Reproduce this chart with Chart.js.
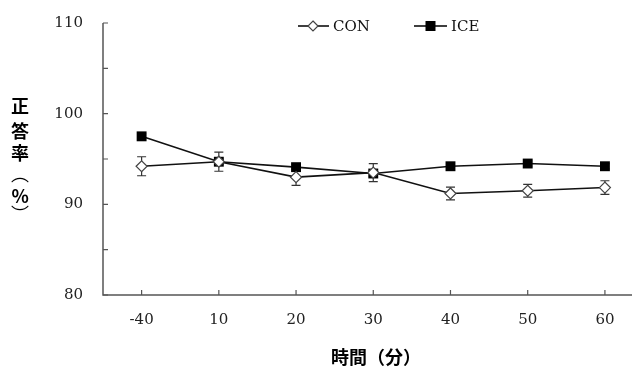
<!DOCTYPE html>
<html>
<head>
<meta charset="utf-8">
<script src="https://cdn.jsdelivr.net/npm/chart.js@4.4.1/dist/chart.umd.min.js"></script>
<style>
html,body{margin:0;padding:0;background:#fff;overflow:hidden;}
#wrap{width:632px;height:369px;position:relative;}
</style>
</head>
<body>
<div id="wrap"><canvas id="c" width="632" height="369"></canvas></div>
<script>
const categories = ['-40', '10', '20', '30', '40', '50', '60'];
const conValues = [94.2, 94.7, 93.0, 93.5, 91.2, 91.5, 91.85];
const conErr    = [1.05, 1.05, 0.9, 1.0, 0.7, 0.7, 0.75];
const iceValues = [97.5, 94.7, 94.1, 93.4, 94.2, 94.5, 94.2];
const iceErr    = [0.3, 0.3, 0.3, 0.3, 0.3, 0.3, 0.3];
const yTickLabels = [80, 90, 100, 110];
const yMinorTicks = [80, 85, 90, 95, 100, 105, 110];
const legendLabels = ['CON', 'ICE'];
const yTitleChars = ['正', '答', '率', '︵', '%', '︶'];
const xTitle = '時間（分）';

const serif = '"DejaVu Serif", "Liberation Serif", serif';
const cjk = '"Noto Sans CJK JP", "Noto Sans CJK SC", sans-serif';

const decor = {
  id: 'decor',
  beforeDatasetsDraw(chart) {
    const ctx = chart.ctx, x = chart.scales.x, y = chart.scales.y;
    ctx.save();
    ctx.strokeStyle = '#333';
    ctx.lineWidth = 1.2;
    const sets = [[conValues, conErr], [iceValues, iceErr]];
    sets.forEach(([vals, errs]) => {
      vals.forEach((v, i) => {
        const px = x.getPixelForValue(i);
        const t = y.getPixelForValue(v + errs[i]);
        const b = y.getPixelForValue(v - errs[i]);
        ctx.beginPath();
        ctx.moveTo(px, t); ctx.lineTo(px, b);
        ctx.moveTo(px - 4.5, t); ctx.lineTo(px + 4.5, t);
        ctx.moveTo(px - 4.5, b); ctx.lineTo(px + 4.5, b);
        ctx.stroke();
      });
    });
    ctx.restore();
  },
  afterDraw(chart) {
    const ctx = chart.ctx, x = chart.scales.x, y = chart.scales.y;
    const area = chart.chartArea;
    ctx.save();
    ctx.strokeStyle = '#555';
    ctx.lineWidth = 1.5;
    ctx.beginPath();
    ctx.moveTo(area.left, area.top);
    ctx.lineTo(area.left, area.bottom);
    ctx.lineTo(chart.width, area.bottom);
    ctx.stroke();
    ctx.lineWidth = 1.2;
    ctx.beginPath();
    yMinorTicks.forEach(v => {
      const py = y.getPixelForValue(v);
      ctx.moveTo(area.left, py); ctx.lineTo(area.left + 5, py);
    });
    categories.forEach((c, i) => {
      const px = x.getPixelForValue(i);
      ctx.moveTo(px, area.bottom); ctx.lineTo(px, area.bottom - 5);
    });
    ctx.stroke();
    const ly = 26;
    ctx.strokeStyle = '#000';
    ctx.lineWidth = 1.5;
    ctx.beginPath();
    ctx.moveTo(298, ly); ctx.lineTo(329, ly);
    ctx.moveTo(414, ly); ctx.lineTo(447, ly);
    ctx.stroke();
    ctx.fillStyle = '#fff';
    ctx.strokeStyle = '#444';
    ctx.lineWidth = 1.2;
    ctx.beginPath();
    ctx.moveTo(313, ly - 5); ctx.lineTo(318, ly); ctx.lineTo(313, ly + 5); ctx.lineTo(308, ly); ctx.closePath();
    ctx.fill(); ctx.stroke();
    ctx.fillStyle = '#000';
    ctx.fillRect(425.5, ly - 5, 10, 10);
    ctx.fillStyle = '#111';
    ctx.font = '15px ' + serif;
    ctx.textBaseline = 'middle';
    ctx.textAlign = 'left';
    ctx.fillText(legendLabels[0], 333, ly + 1);
    ctx.fillText(legendLabels[1], 451, ly + 1);
    // y title: each glyph's ink centred on its slot
    ctx.fillStyle = '#000';
    ctx.textAlign = 'left';
    ctx.textBaseline = 'alphabetic';
    const ys = [106, 130, 153, 179.5, 196, 208];
    yTitleChars.forEach((ch, i) => {
      ctx.font = (ch === '︵' || ch === '︶') ? '18px ' + cjk : 'bold 18px ' + cjk;
      const m = ctx.measureText(ch);
      const cx = (m.actualBoundingBoxRight - m.actualBoundingBoxLeft) / 2;
      const cy = (m.actualBoundingBoxDescent - m.actualBoundingBoxAscent) / 2;
      ctx.fillText(ch, 20 - cx, ys[i] - cy);
    });
    ctx.textAlign = 'center';
    ctx.textBaseline = 'middle';
    ctx.font = 'bold 18px ' + cjk;
    ctx.fillText(xTitle, 376, 357);
    ctx.restore();
  }
};

new Chart(document.getElementById('c'), {
  type: 'line',
  data: {
    datasets: [
      {
        label: legendLabels[0],
        data: conValues.map((v, i) => ({x: i, y: v})),
        borderColor: '#111',
        borderWidth: 1.6,
        pointStyle: 'rectRot',
        pointRadius: 5.5,
        pointBackgroundColor: '#fff',
        pointBorderColor: '#444',
        pointBorderWidth: 1.2,
        tension: 0
      },
      {
        label: legendLabels[1],
        data: iceValues.map((v, i) => ({x: i, y: v})),
        borderColor: '#111',
        borderWidth: 1.6,
        pointStyle: 'rect',
        pointRadius: 7,
        pointBackgroundColor: '#000',
        pointBorderColor: '#000',
        pointBorderWidth: 0,
        tension: 0
      }
    ]
  },
  options: {
    responsive: false,
    animation: false,
    events: [],
    layout: {padding: {top: 23, right: 0, left: 0, bottom: 0}},
    plugins: {legend: {display: false}, tooltip: {enabled: false}},
    scales: {
      x: {
        type: 'linear',
        min: -0.5,
        max: 6.26,
        afterBuildTicks: s => { s.ticks = categories.map((c, i) => ({value: i})); },
        afterFit: s => { s.height = 74; s.paddingLeft = 0; s.paddingRight = 0; },
        grid: {display: false, drawTicks: false},
        border: {display: false},
        ticks: {
          padding: 16,
          color: '#222',
          font: {family: serif, size: 15},
          callback: v => categories[v]
        }
      },
      y: {
        min: 80,
        max: 110,
        afterBuildTicks: s => { s.ticks = yTickLabels.map(v => ({value: v})); },
        afterFit: s => { s.width = 103; s.paddingTop = 0; s.paddingBottom = 0; },
        grid: {display: false, drawTicks: false},
        border: {display: false},
        ticks: {
          padding: 20,
          color: '#222',
          font: {family: serif, size: 15}
        }
      }
    }
  },
  plugins: [decor]
});
</script>
</body>
</html>
